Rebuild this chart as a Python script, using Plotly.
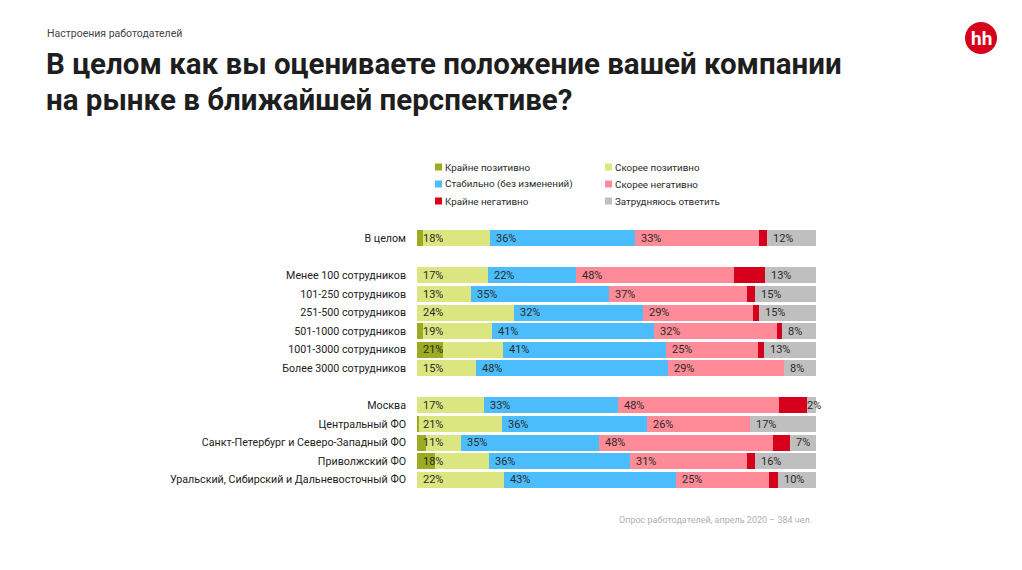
import plotly.graph_objects as go
import numpy as np

# ---------------- data ----------------
categories = [
    "В целом",
    "Менее 100 сотрудников",
    "101-250 сотрудников",
    "251-500 сотрудников",
    "501-1000 сотрудников",
    "1001-3000 сотрудников",
    "Более 3000 сотрудников",
    "Москва",
    "Центральный ФО",
    "Санкт-Петербург и Северо-Западный ФО",
    "Приволжский ФО",
    "Уральский, Сибирский и Дальневосточный ФО",
]
row_pos = [0, 2, 3, 4, 5, 6, 7, 9, 10, 11, 12, 13]

series_names = ["Крайне позитивно", "Скорее позитивно", "Стабильно (без изменений)",
                "Скорее негативно", "Крайне негативно", "Затрудняюсь ответить"]

very_positive = [1.4, 0.0, 0.0, 0.0, 1.6, 6.6, 0.0, 0.0, 0.5, 2.3, 4.5, 0.0]
rather_positive = [16.9, 17.7, 13.6, 24.3, 17.2, 14.9, 14.7, 16.8, 20.8, 8.7, 13.5, 21.8]
stable = [36.4, 22.2, 34.5, 32.3, 40.6, 41.0, 48.3, 33.5, 36.4, 34.6, 35.5, 43.0]
rather_negative = [30.9, 39.6, 34.7, 27.5, 30.7, 22.9, 29.0, 40.4, 25.8, 43.7, 29.1, 23.5]
very_negative = [2.2, 7.8, 1.8, 1.5, 1.5, 1.6, 0.0, 7.0, 0.0, 4.2, 2.1, 2.1]
hard_to_say = [12.2, 12.7, 15.4, 14.4, 8.4, 13.0, 8.0, 2.3, 16.5, 6.5, 15.3, 9.6]

# printed labels (positive total, stable, negative total, hard to say)
label_positive = [18, 17, 13, 24, 19, 21, 15, 17, 21, 11, 18, 22]
label_stable = [36, 22, 35, 32, 41, 41, 48, 33, 36, 35, 36, 43]
label_negative = [33, 48, 37, 29, 32, 25, 29, 48, 26, 48, 31, 25]
label_unsure = [12, 13, 15, 15, 8, 13, 8, 2, 17, 7, 16, 10]

colors = ["#9cab21", "#dbe680", "#4bbdfc", "#fe8b97", "#d6001c", "#bfbfbf"]

# ---------------- geometry ----------------
W, H = 1022, 570
PL, PR = 417, 816
PT, PB = 229, 489
FONT = "Roboto, 'Noto Sans', sans-serif"


def px_x(px):
    return (px - PL) / (PR - PL)


def px_y(py):
    return (PB - py) / (PB - PT)


all_series = [very_positive, rather_positive, stable, rather_negative, very_negative, hard_to_say]

fig = go.Figure()
for name, vals, col in zip(series_names, all_series, colors):
    fig.add_trace(go.Bar(
        y=row_pos, x=vals, orientation="h", name=name,
        marker=dict(color=col, line=dict(width=0)),
        width=0.86, showlegend=False, hoverinfo="skip",
    ))

# segment label annotations placed at the start of each group (normalised)
arr = np.array(all_series)
totals = arr.sum(axis=0)
cum = np.cumsum(arr, axis=0) / totals * 100
annotations = []
for i, y in enumerate(row_pos):
    starts = [0.0, cum[1][i], cum[2][i], min(cum[4][i], 96.2)]
    texts = [label_positive[i], label_stable[i], label_negative[i], label_unsure[i]]
    for sx, t in zip(starts, texts):
        annotations.append(dict(
            x=sx, y=y, xref="x", yref="y", text=f"{t}%", showarrow=False,
            xanchor="left", yanchor="middle", xshift=4,
            font=dict(family=FONT, size=11, color="#2a2a2a"),
        ))

# header texts
annotations.append(dict(x=px_x(45), y=px_y(33), xref="paper", yref="paper",
                        text="Настроения работодателей", showarrow=False,
                        xanchor="left", yanchor="middle",
                        font=dict(family=FONT, size=10.5, color="#444444")))
annotations.append(dict(x=px_x(44), y=px_y(64), xref="paper", yref="paper",
                        text="В целом как вы оцениваете положение вашей компании",
                        showarrow=False, xanchor="left", yanchor="middle",
                        font=dict(family=FONT, size=29.5, color="#1e1e1e", weight=700)))
annotations.append(dict(x=px_x(44), y=px_y(100), xref="paper", yref="paper",
                        text="на рынке в ближайшей перспективе?",
                        showarrow=False, xanchor="left", yanchor="middle",
                        font=dict(family=FONT, size=29.5, color="#1e1e1e", weight=700)))
# footnote
annotations.append(dict(x=px_x(814), y=px_y(520), xref="paper", yref="paper",
                        text="Опрос работодателей, апрель 2020 – 384 чел.",
                        showarrow=False, xanchor="right", yanchor="middle",
                        font=dict(family=FONT, size=9, color="#b0b0b0")))
# logo text
annotations.append(dict(x=px_x(981), y=px_y(38), xref="paper", yref="paper",
                        text="hh", showarrow=False, xanchor="center", yanchor="middle",
                        font=dict(family=FONT, size=19, color="white", weight=700)))

shapes = []
# logo circle
shapes.append(dict(type="circle", xref="paper", yref="paper",
                   x0=px_x(965), x1=px_x(997), y0=px_y(22), y1=px_y(54),
                   fillcolor="#d6001c", line=dict(width=0)))

# manual two-column legend
legend_cols = [(435, 443), (605, 613)]
legend_rows = [167, 184, 201]
legend_layout = [(0, 0, 0), (1, 1, 0), (2, 0, 1), (3, 1, 1), (4, 0, 2), (5, 1, 2)]
for si, c, r in legend_layout:
    sx, tx = legend_cols[c]
    cy = legend_rows[r]
    shapes.append(dict(type="rect", xref="paper", yref="paper",
                       x0=px_x(sx), x1=px_x(sx + 7), y0=px_y(cy - 3.5), y1=px_y(cy + 3.5),
                       fillcolor=colors[si], line=dict(width=0)))
    annotations.append(dict(x=px_x(tx), y=px_y(cy), xref="paper", yref="paper",
                            text=series_names[si], showarrow=False,
                            xanchor="left", yanchor="middle",
                            font=dict(family=FONT, size=9.8, color="#2a2a2a")))

fig.update_layout(
    width=W, height=H,
    margin=dict(l=PL, r=W - PR, t=PT, b=H - PB, pad=0),
    barmode="stack", barnorm="percent", bargap=0,
    paper_bgcolor="white", plot_bgcolor="white",
    showlegend=False,
    xaxis=dict(range=[0, 100], visible=False, fixedrange=True),
    yaxis=dict(range=[13.5, -0.5], tickmode="array", tickvals=row_pos, ticktext=categories,
               showgrid=False, zeroline=False, showline=False, ticks="",
               ticklabelstandoff=10,
               tickfont=dict(family=FONT, size=10.7, color="#222222"), fixedrange=True),
    annotations=annotations,
    shapes=shapes,
    hovermode=False,
)

fig.write_html("out.html", config={"displayModeBar": False})
